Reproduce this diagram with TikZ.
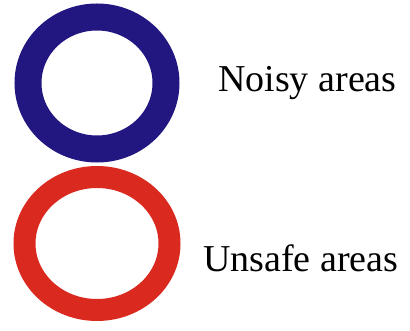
\documentclass[tikz,border=0pt]{standalone}
\usepackage{fontspec}
\setmainfont{Liberation Serif}
\usepackage{xcolor}
\usepackage{tikz}
\usetikzlibrary{positioning}

\definecolor{vongxanh}{RGB}{34,22,128}
\definecolor{vongdo}{RGB}{218,42,32}

\begin{document}
\begin{tikzpicture}[x=1pt, y=-1pt,
    nhan/.style={anchor=base west, inner sep=0pt, font=\fontsize{38}{40}\selectfont}]
    \useasboundingbox (0,0) rectangle (410,331);

    % Vòng tròn xanh
    \draw[vongxanh, line width=27pt] (97,83) ellipse [x radius=69, y radius=66];

    % Vòng tròn đỏ
    \draw[vongdo, line width=22pt] (97,243.5) ellipse [x radius=72.5, y radius=66.5];

    % Chú thích
    \node[nhan] (noisy) at (218,92) {Noisy areas};
    \node[nhan] (unsafe) at (203,272) {Unsafe areas};
\end{tikzpicture}
\end{document}
